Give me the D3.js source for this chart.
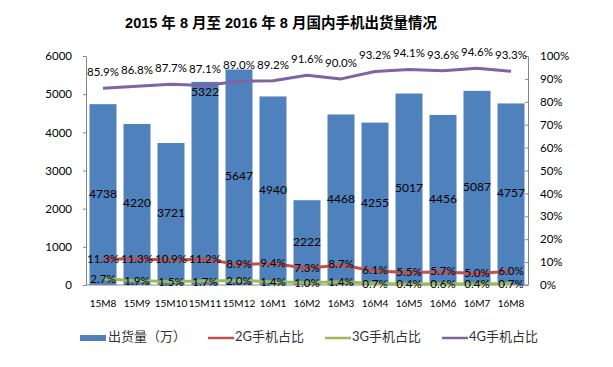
<!DOCTYPE html>
<html>
<head>
<meta charset="utf-8">
<script src="https://cdn.jsdelivr.net/npm/d3@7"></script>
<style>
  body { margin: 0; background: #fff; }
  svg { display: block; }
  text { font-family: Lato, "Noto Sans CJK SC", sans-serif; }
  .axis path, .axis line { stroke: #868686; }
  .axis text { fill: #000; font-size: 11.5px; }
</style>
</head>
<body>
<svg width="613" height="367"></svg>
<script>
// chart data
const months = ['15M8','15M9','15M10','15M11','15M12','16M1','16M2','16M3','16M4','16M5','16M6','16M7','16M8'];
const shipments = [4738, 4220, 3721, 5322, 5647, 4940, 2222, 4468, 4255, 5017, 4456, 5087, 4757];
const share2G = [11.3, 11.3, 10.9, 11.2, 8.9, 9.4, 7.3, 8.7, 6.1, 5.5, 5.7, 5.0, 6.0];
const share3G = [2.7, 1.9, 1.5, 1.7, 2.0, 1.4, 1.0, 1.4, 0.7, 0.4, 0.6, 0.4, 0.7];
const share4G = [85.9, 86.8, 87.7, 87.1, 89.0, 89.2, 91.6, 90.0, 93.2, 94.1, 93.6, 94.6, 93.3];
const leftTicks = [0, 1000, 2000, 3000, 4000, 5000, 6000];
const rightTicks = [0, 10, 20, 30, 40, 50, 60, 70, 80, 90, 100];
const legendNames = ['出货量（万）', '2G手机占比', '3G手机占比', '4G手机占比'];

const colors = {bar: '#4f81bd', g2: '#c0504d', g3: '#9bbb59', g4: '#8064a2'};
const plot = {left: 86, right: 528, top: 56, bottom: 285};

let svg = d3.select('svg');

// title
svg.append('text')
    .attr('x', 281)
    .attr('y', 24)
    .attr('text-anchor', 'middle')
    .attr('dominant-baseline', 'middle')
    .style('font-family', '"Liberation Sans", "Noto Sans CJK SC", sans-serif')
    .style('font-weight', 'bold')
    .style('font-size', '14.5px')
    .text('2015 年 8 月至 2016 年 8 月国内手机出货量情况');

// scales
let x = d3.scaleBand()
    .domain(months)
    .range([plot.left, plot.right])
    .paddingInner(0.206)
    .paddingOuter(0.103);

let yLeft = d3.scaleLinear()
    .domain([0, 6000])
    .range([plot.bottom, plot.top]);

let yRight = d3.scaleLinear()
    .domain([0, 100])
    .range([plot.bottom, plot.top]);

// bars
svg.append('g')
    .selectAll('rect')
    .data(shipments)
    .enter()
    .append('rect')
        .attr('x', (d, i) => x(months[i]))
        .attr('y', d => yLeft(d))
        .attr('width', x.bandwidth())
        .attr('height', d => yLeft(0) - yLeft(d))
        .attr('fill', colors.bar);

// axes
svg.append('g')
    .classed('axis', true)
    .attr('transform', `translate(${plot.left},0)`)
    .call(d3.axisLeft(yLeft).tickValues(leftTicks).tickFormat(d3.format('d'))
        .tickSize(3).tickPadding(11).tickSizeOuter(0));

svg.append('g')
    .classed('axis', true)
    .attr('transform', `translate(${plot.right},0)`)
    .call(d3.axisRight(yRight).tickValues(rightTicks).tickFormat(d => d + '%')
        .tickSize(-3).tickPadding(12).tickSizeOuter(0));

svg.append('line')
    .attr('x1', plot.left).attr('x2', plot.right)
    .attr('y1', plot.bottom).attr('y2', plot.bottom)
    .attr('stroke', '#868686');

// category labels
svg.append('g')
    .selectAll('text')
    .data(months)
    .enter()
    .append('text')
        .attr('x', d => x(d) + x.bandwidth() / 2)
        .attr('y', 304)
        .attr('text-anchor', 'middle')
        .attr('dominant-baseline', 'middle')
        .style('font-size', '10px')
        .text(d => d);

// lines
let cx = i => x(months[i]) + x.bandwidth() / 2;
let line = d3.line()
    .x((d, i) => cx(i))
    .y(d => yRight(d));

[[share2G, colors.g2], [share3G, colors.g3], [share4G, colors.g4]].forEach(([vals, clr]) => {
    svg.append('path')
        .datum(vals)
        .attr('d', line)
        .attr('fill', 'none')
        .attr('stroke', clr)
        .attr('stroke-width', 3)
        .attr('stroke-linejoin', 'round');
});

// bar value labels: centred, except 15M11 which sits near the bar top
svg.append('g')
    .selectAll('text')
    .data(shipments)
    .enter()
    .append('text')
        .attr('x', (d, i) => cx(i))
        .attr('y', (d, i) => i === 3 ? yLeft(d) + 11 : (yLeft(d) + yLeft(0)) / 2)
        .attr('text-anchor', 'middle')
        .attr('dominant-baseline', 'middle')
        .style('font-size', '12px')
        .text(d => d);

// percentage labels
function pctLabels(vals, dy) {
    svg.append('g')
        .selectAll('text')
        .data(vals)
        .enter()
        .append('text')
            .attr('x', (d, i) => cx(i))
            .attr('y', d => yRight(d) + dy)
            .attr('text-anchor', 'middle')
            .attr('dominant-baseline', 'middle')
            .style('font-size', '11.5px')
            .text(d => d.toFixed(1) + '%');
}
pctLabels(share2G, 0.5);
pctLabels(share3G, 1.5);
pctLabels(share4G, -15);

// legend
let legendX = [80, 208, 325, 442];
let legend = svg.append('g');
legendNames.forEach((name, i) => {
    let g = legend.append('g').attr('transform', `translate(${legendX[i]},338)`);
    if (i === 0) {
        g.append('rect').attr('x', 0).attr('y', -3).attr('width', 26).attr('height', 6).attr('fill', colors.bar);
    } else {
        g.append('line').attr('x1', 0).attr('x2', 26).attr('y1', 0).attr('y2', 0)
            .attr('stroke', [colors.g2, colors.g3, colors.g4][i - 1]).attr('stroke-width', 2.5);
    }
    g.append('text')
        .attr('x', i === 0 ? 28 : 27)
        .attr('y', 0)
        .attr('dominant-baseline', 'middle')
        .style('font-size', '13px')
        .style('fill', '#333')
        .text(name);
});
</script>
</body>
</html>
